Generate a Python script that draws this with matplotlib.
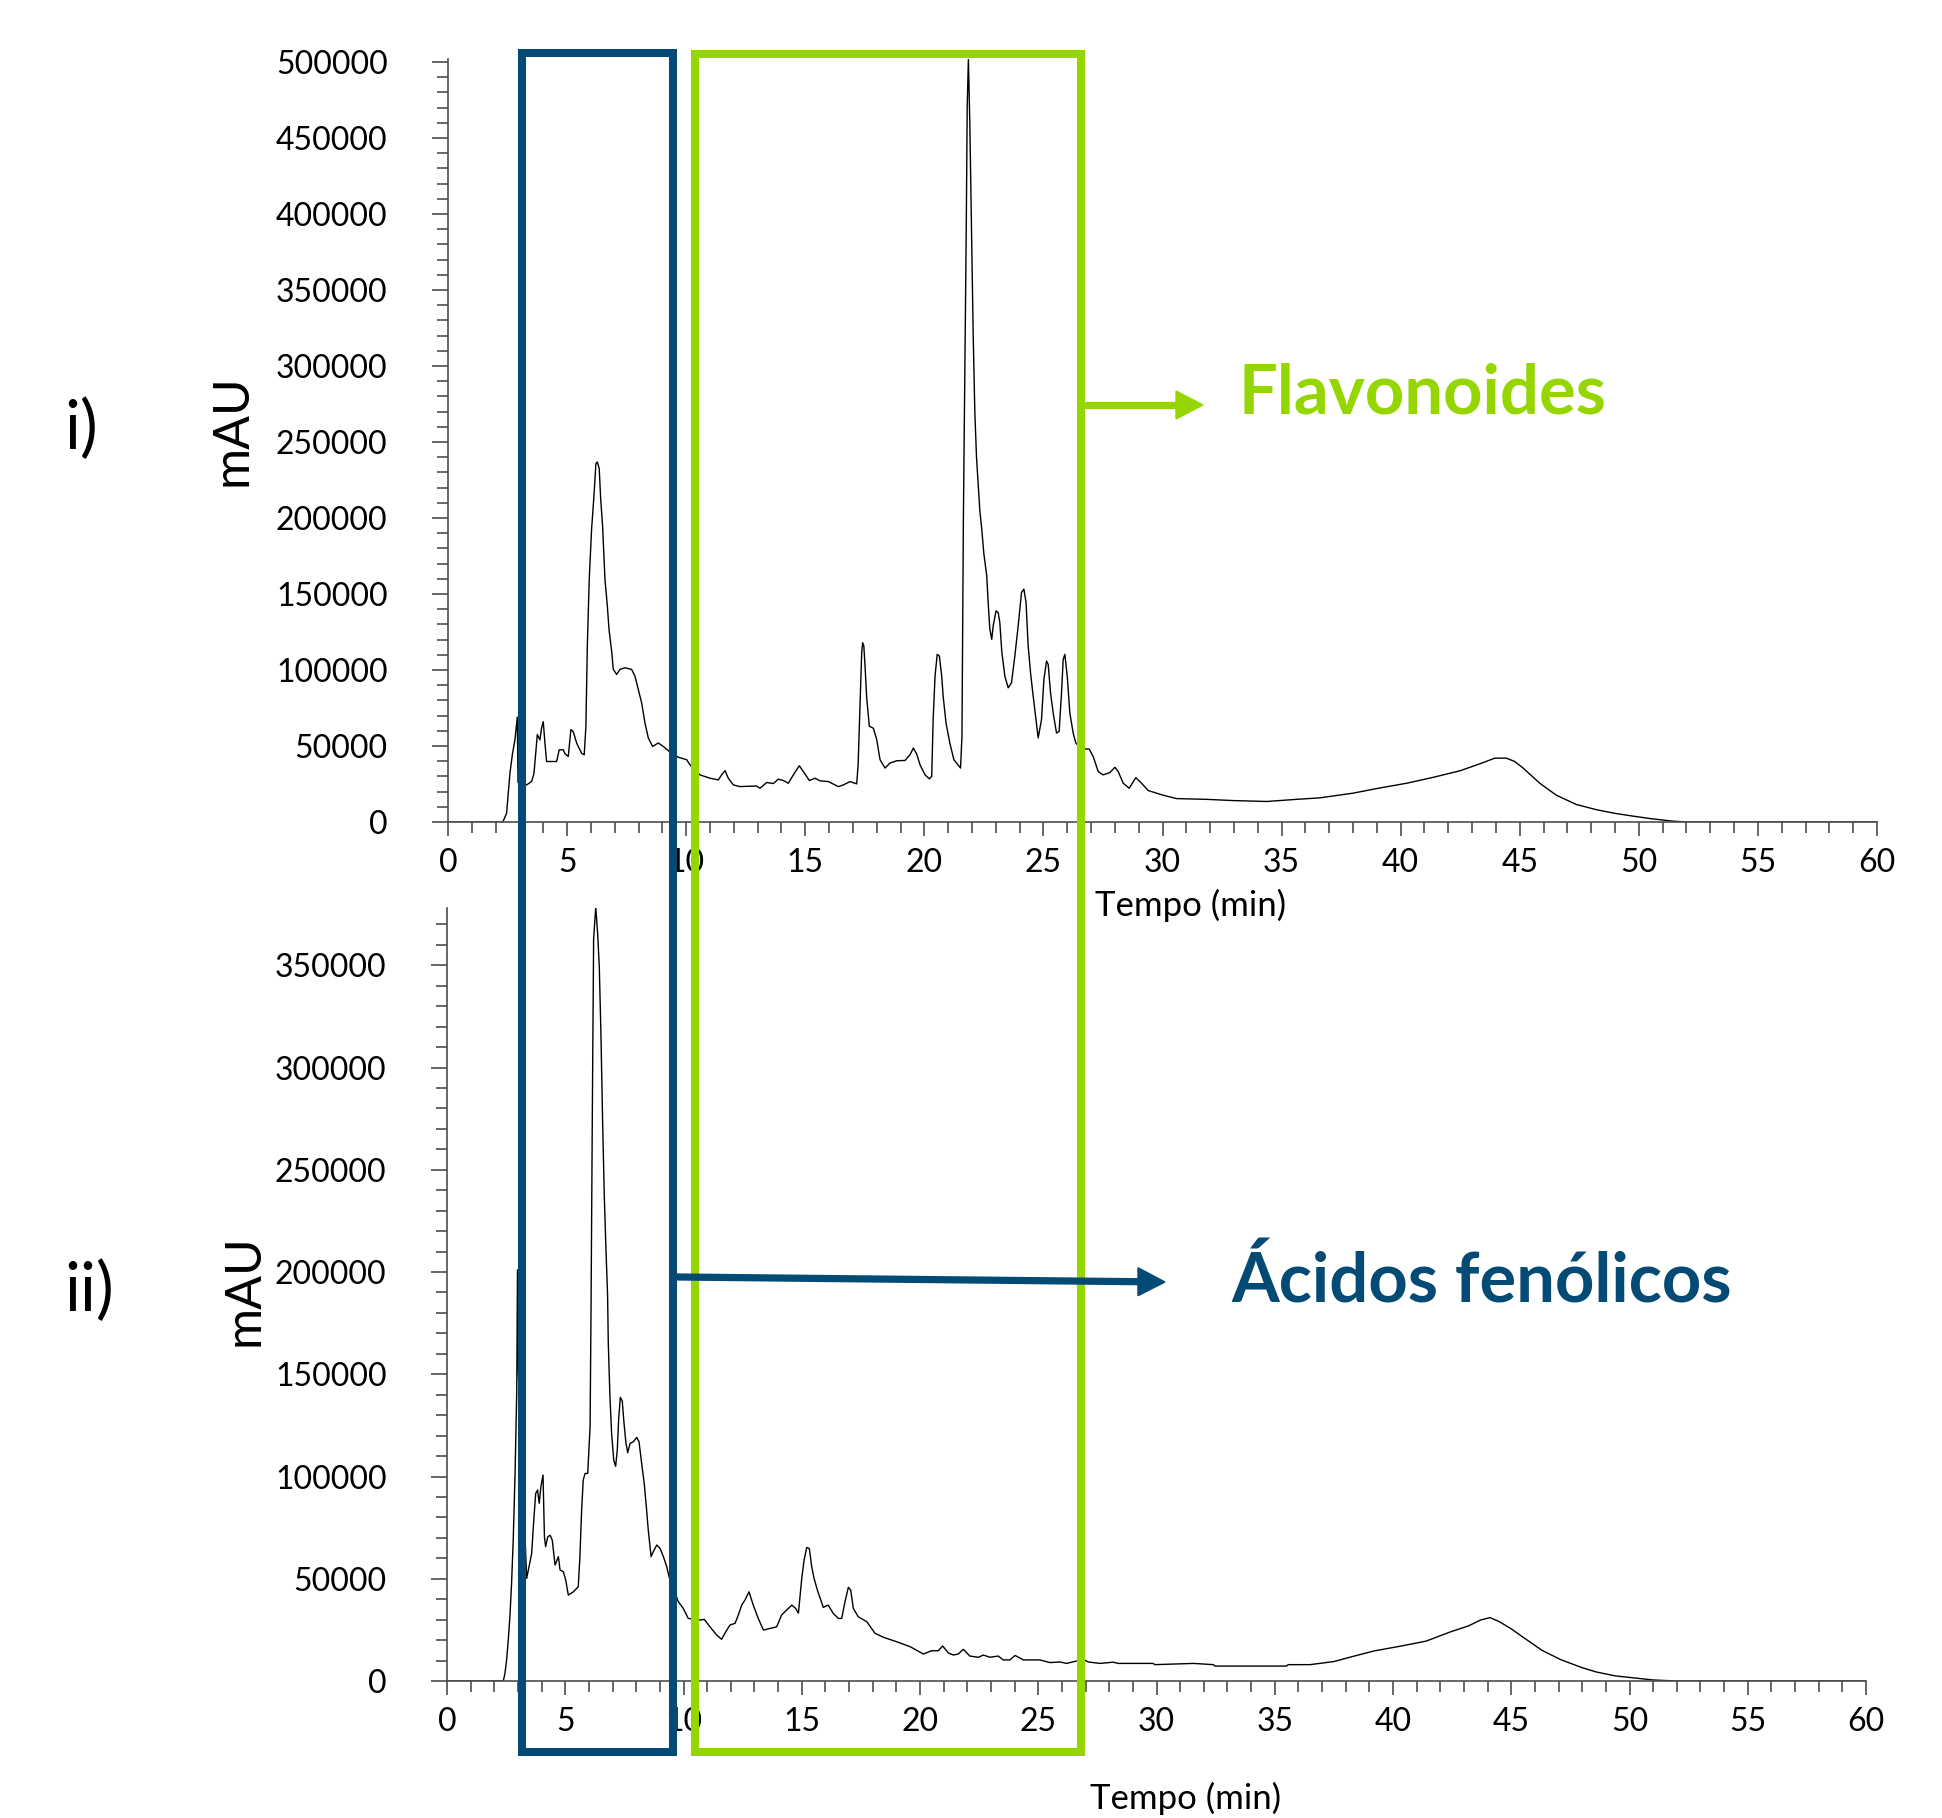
import matplotlib
matplotlib.use("Agg")
import matplotlib.pyplot as plt
from matplotlib.ticker import MultipleLocator
from matplotlib.patches import Rectangle, Polygon
from matplotlib.lines import Line2D

plt.rcParams['font.family'] = ['Lato', 'DejaVu Sans']

# chromatogram i)
t_i = [0, 2.3, 2.46, 2.6, 2.71, 2.81, 2.91, 2.94, 3.3, 3.51, 3.61, 3.75, 3.86, 3.93, 4.0, 4.07, 4.14,
       4.56, 4.67, 4.84, 4.91, 5.05, 5.16, 5.26, 5.4, 5.61, 5.72, 5.79, 5.85, 5.93, 6.03, 6.13, 6.21,
       6.27, 6.35, 6.41, 6.49, 6.59, 6.69, 6.76, 6.87, 6.94, 7.08, 7.22, 7.43, 7.71, 7.85, 7.99, 8.13,
       8.27, 8.41, 8.59, 8.83, 9.04, 9.29, 9.67, 10.02, 10.16, 10.58, 11.0, 11.35, 11.49, 11.63, 11.77,
       11.98, 12.26, 12.96, 13.1, 13.38, 13.66, 13.87, 14.08, 14.29, 14.5, 14.75, 14.92, 15.17, 15.41,
       15.62, 15.97, 16.39, 16.6, 16.88, 17.16, 17.22, 17.3, 17.37, 17.41, 17.46, 17.51, 17.58, 17.69,
       17.86, 18.0, 18.14, 18.35, 18.56, 18.84, 19.19, 19.4, 19.54, 19.68, 19.82, 20.03, 20.21, 20.31,
       20.37, 20.45, 20.54, 20.63, 20.73, 20.79, 20.91, 21.07, 21.24, 21.52, 21.58, 21.64, 21.72, 21.76,
       21.8, 21.85, 21.91, 21.98, 22.05, 22.12, 22.19, 22.26, 22.33, 22.41, 22.5, 22.62, 22.68, 22.75,
       22.83, 22.89, 23.01, 23.1, 23.17, 23.25, 23.38, 23.52, 23.66, 23.8, 23.94, 24.08, 24.18, 24.27,
       24.36, 24.46, 24.57, 24.69, 24.78, 24.92, 25.02, 25.13, 25.2, 25.3, 25.41, 25.55, 25.66, 25.76,
       25.83, 25.9, 26.0, 26.11, 26.25, 26.36, 26.55, 26.74, 26.92, 27.09, 27.3, 27.51, 27.79, 28.0,
       28.14, 28.35, 28.6, 28.88, 29.12, 29.4, 30.03, 30.59, 31.85, 32.97, 34.37, 35.63, 36.61, 38.01,
       39.06, 40.25, 41.37, 42.49, 43.33, 43.95, 44.44, 44.79, 45.14, 45.84, 46.54, 47.38, 48.22, 48.99,
       49.7, 50.5, 51.4, 52.0, 60]
mau_i = [0, 0, 5700, 32000, 45200, 54000, 69000, 26000, 24400, 26600, 32000, 57500, 54000, 62000, 66000,
         52000, 39800, 39800, 47500, 47500, 45000, 43100, 60800, 59400, 52000, 45200, 44200, 63000,
         115800, 159800, 192900, 214900, 235800, 236900, 232500, 212700, 195000, 159800, 142200, 126800,
         112500, 100400, 97100, 100400, 101500, 100400, 96000, 87200, 78400, 65200, 55300, 49700, 52000,
         49700, 46400, 42600, 41000, 37600, 31000, 28800, 27700, 31000, 33800, 28800, 24400, 23300, 23700,
         22200, 26000, 25300, 28200, 27300, 25500, 31000, 37000, 33200, 27300, 28800, 27100, 26600, 23300,
         24400, 26600, 25100, 37600, 76200, 111400, 118000, 115800, 102600, 81700, 63000, 61700, 54200,
         41000, 35500, 38800, 40300, 40500, 44300, 48700, 44700, 37600, 31000, 28400, 30000, 67400, 96000,
         110300, 109200, 96000, 82800, 65200, 52000, 41000, 35500, 56400, 200600, 330000, 389900, 470300,
         502000, 459300, 391000, 321700, 269900, 240200, 222000, 205000, 192900, 176400, 162000, 144500,
         126800, 120200, 129000, 138900, 137800, 131200, 112500, 96000, 88300, 91600, 109200, 129000,
         151000, 153200, 144500, 115800, 98100, 82800, 67400, 55300, 67400, 93800, 105900, 103700, 84900,
         71700, 58500, 59600, 84900, 107000, 110300, 96000, 71700, 58500, 52000, 49000, 48000, 48000,
         43100, 33200, 31000, 32500, 36000, 33200, 25500, 22200, 29200, 25500, 20700, 17600, 15400, 14900,
         14100, 13500, 14900, 15900, 19000, 22200, 25500, 29400, 33700, 38300, 42000, 42000, 39800, 35500,
         25500, 17600, 11500, 8100, 5700, 4000, 2200, 600, 0, 0]

# chromatogram ii)
t_ii = [0, 2.38, 2.45, 2.52, 2.59, 2.66, 2.73, 2.8, 2.88, 2.95, 2.98, 3.02, 3.37, 3.47, 3.58, 3.66, 3.75,
        3.83, 3.9, 3.97, 4.06, 4.12, 4.17, 4.26, 4.36, 4.45, 4.57, 4.71, 4.78, 4.92, 5.02, 5.13, 5.34,
        5.55, 5.62, 5.69, 5.76, 5.84, 5.95, 6.05, 6.09, 6.15, 6.2, 6.29, 6.37, 6.44, 6.51, 6.58, 6.65,
        6.72, 6.79, 6.82, 6.89, 6.96, 7.05, 7.13, 7.2, 7.26, 7.33, 7.41, 7.48, 7.56, 7.64, 7.74, 7.88,
        8.02, 8.12, 8.23, 8.34, 8.44, 8.51, 8.63, 8.72, 8.87, 9.01, 9.15, 9.29, 9.39, 9.78, 9.99, 10.2,
        10.7, 10.88, 11.12, 11.4, 11.61, 11.83, 11.97, 12.18, 12.32, 12.46, 12.6, 12.77, 12.95, 13.16,
        13.38, 13.66, 13.94, 14.15, 14.36, 14.58, 14.74, 14.86, 15.0, 15.1, 15.21, 15.32, 15.42, 15.52,
        15.66, 15.91, 16.12, 16.33, 16.55, 16.69, 16.83, 16.97, 17.07, 17.18, 17.39, 17.75, 18.1, 18.45,
        19.01, 19.58, 20.14, 20.49, 20.77, 20.96, 21.2, 21.41, 21.62, 21.83, 22.11, 22.47, 22.68, 22.96,
        23.31, 23.52, 23.8, 24.02, 24.37, 25.07, 25.5, 25.92, 26.2, 26.91, 27.12, 27.61, 28.17, 28.38,
        29.86, 29.93, 31.56, 32.4, 32.47, 35.5, 35.57, 36.49, 37.5, 38.2, 39.2, 40.3, 41.4, 42.4, 43.2,
        43.7, 44.1, 44.5, 45.0, 45.5, 46.3, 47.1, 48.0, 48.6, 49.4, 50.2, 51.0, 52.0, 60]
mau_ii = [0, 0, 3700, 10300, 20000, 31400, 47700, 68900, 102300, 142200, 201000, 150000, 50200, 55900,
          62400, 77100, 91700, 93400, 86900, 95000, 100700, 70500, 65700, 70500, 71300, 68900, 56700,
          60800, 54300, 53400, 49400, 42000, 43600, 46100, 60800, 82800, 98300, 101500, 101500, 124300,
          181300, 286400, 363000, 378500, 365400, 349100, 315700, 273400, 237500, 211500, 188700, 165100,
          139000, 121100, 108000, 105000, 112900, 128400, 138700, 137000, 126700, 117000, 111600, 116200,
          117000, 119100, 117000, 106400, 96600, 83600, 73800, 60800, 63200, 66500, 64800, 60800, 55900,
          51000, 38800, 35500, 30600, 29800, 30100, 26500, 22500, 20400, 24900, 27400, 28200, 32300, 37100,
          39600, 43600, 37100, 30600, 24900, 25700, 26500, 32300, 34700, 37100, 35500, 33200, 50200, 59100,
          65300, 64800, 55900, 50200, 44500, 36000, 37100, 33100, 30600, 30600, 38800, 45800, 44500, 35500,
          31400, 29000, 23300, 21400, 19200, 16800, 13200, 14800, 14800, 17100, 13700, 12700, 13200, 15500,
          12200, 11600, 12700, 11600, 12200, 10300, 10300, 12500, 10300, 10300, 9000, 9300, 8600, 10600,
          9300, 8600, 9200, 8600, 8600, 8000, 8600, 8000, 7300, 7300, 8000, 8000, 9500, 11700, 14700,
          17000, 19500, 23900, 27000, 29800, 31000, 29000, 25500, 21400, 15000, 10400, 6500, 4400, 2500,
          1500, 500, 0, 0]

W, H = 1942, 1818
green = '#96D600'
blue = '#034A75'
axcol = '#4d4d4d'

fig = plt.figure(figsize=(W / 100, H / 100), dpi=100)
ax1 = fig.add_axes([448 / W, 1 - 822 / H, (1877 - 448) / W, (822 - 59) / H])
ax2 = fig.add_axes([447 / W, 1 - 1681 / H, (1866 - 447) / W, (1681 - 908) / H])

for ax, t, v, ymax in [(ax1, t_i, mau_i, 502000), (ax2, t_ii, mau_ii, 378000)]:
    ax.plot(t, v, color='black', lw=1.0)
    ax.set_xlim(0, 60)
    ax.set_ylim(0, ymax)
    ax.spines['top'].set_visible(False)
    ax.spines['right'].set_visible(False)
    for s in ['left', 'bottom']:
        ax.spines[s].set_color(axcol)
        ax.spines[s].set_linewidth(1.2)
    ax.xaxis.set_major_locator(MultipleLocator(5))
    ax.xaxis.set_minor_locator(MultipleLocator(1))
    ax.yaxis.set_major_locator(MultipleLocator(50000))
    ax.yaxis.set_minor_locator(MultipleLocator(10000))
    ax.ticklabel_format(axis='y', style='plain', useOffset=False)
    ax.tick_params(axis='y', which='major', length=11.5, width=1.2, color=axcol, pad=32, labelsize=23)
    ax.tick_params(axis='y', which='minor', length=8, width=1.2, color=axcol)
    ax.tick_params(axis='x', which='major', length=10, width=1.2, color=axcol, pad=9, labelsize=23)
    ax.tick_params(axis='x', which='minor', length=8, width=1.2, color=axcol)

# text
fig.text(81 / W, 1 - 430 / H, 'i)', fontsize=48, ha='center', va='center')
fig.text(89 / W, 1 - 1292 / H, 'ii)', fontsize=48, ha='center', va='center')
fig.text(232 / W, 1 - 430 / H, 'mAU', fontsize=36, rotation=90, ha='center', va='center')
fig.text(244 / W, 1 - 1290 / H, 'mAU', fontsize=36, rotation=90, ha='center', va='center')
fig.text(1191 / W, 1 - 905 / H, 'Tempo (min)', fontsize=25, ha='center', va='center')
fig.text(1186 / W, 1 - 1798 / H, 'Tempo (min)', fontsize=25, ha='center', va='center')
fig.text(1238 / W, 1 - 394 / H, 'Flavonoides', fontsize=49.5, fontweight='bold', color=green,
         ha='left', va='center')
fig.text(1231 / W, 1 - 1282 / H, 'Ácidos fenólicos', fontsize=49.5, fontweight='bold', color=blue,
         ha='left', va='center')


def px(x, y):
    return (x / W, 1 - y / H)


# highlight boxes
for (x0, x1, y0, y1, c) in [(522, 673, 53, 1752, blue), (695, 1081, 54, 1752, green)]:
    r = Rectangle(px(x0, y1), (x1 - x0) / W, (y1 - y0) / H, transform=fig.transFigure,
                  fill=False, ec=c, lw=5.8, zorder=10)
    fig.add_artist(r)

# arrows
for (xa, ya, xb, yb, c) in [(1081, 405, 1203, 405, green), (679, 1277, 1165, 1282, blue)]:
    hl, hw = 27, 14
    xs = xb - hl
    ys = ya + (yb - ya) * (xs - xa) / (xb - xa)
    fig.add_artist(Line2D([px(xa, ya)[0], px(xs + 2, ys)[0]], [px(xa, ya)[1], px(xs + 2, ys)[1]],
                          transform=fig.transFigure, color=c, lw=5.2, zorder=10))
    fig.add_artist(Polygon([px(xs, ys - hw), px(xs, ys + hw), px(xb, yb)], closed=True,
                           transform=fig.transFigure, fc=c, ec=c, zorder=10))

fig.savefig('out.png', dpi=100)
